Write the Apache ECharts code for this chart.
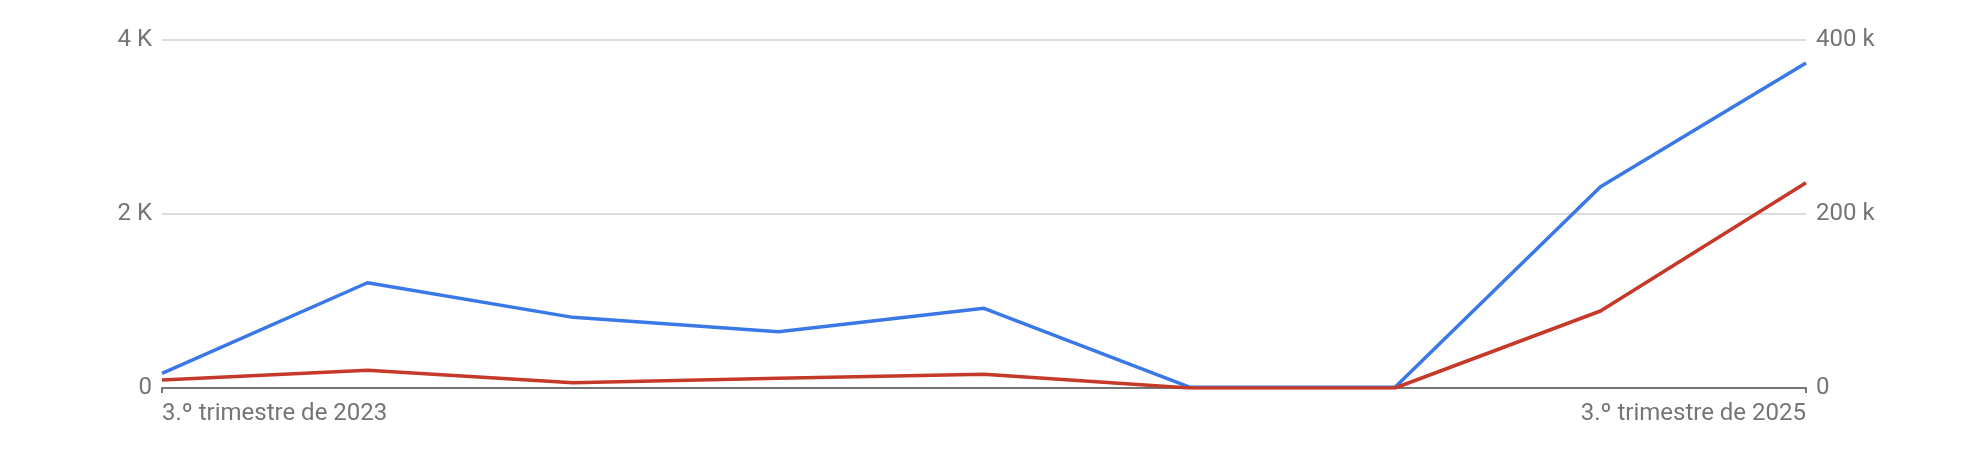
<!DOCTYPE html>
<html>
<head>
<meta charset="utf-8">
<script src="https://cdn.jsdelivr.net/npm/echarts@6/dist/echarts.min.js"></script>
<style>
html,body{margin:0;padding:0;background:#fff;}
#main{width:1964px;height:476px;}
</style>
</head>
<body>
<div id="main"></div>
<script>
/* quarters, left axis series (blue), right axis series (red) */
var quarters = [
  "3.º trimestre de 2023","4.º trimestre de 2023","1.º trimestre de 2024",
  "2.º trimestre de 2024","3.º trimestre de 2024","4.º trimestre de 2024",
  "1.º trimestre de 2025","2.º trimestre de 2025","3.º trimestre de 2025"
];
var blueVals = [169, 1210, 812, 647, 916, 10, 10, 2314, 3736];
var redVals  = [9200, 20300, 6100, 11100, 15700, 0, 0, 88500, 236000];
var leftTicks  = {0:"0", 2000:"2 K", 4000:"4 K"};
var rightTicks = {0:"0", 200000:"200 k", 400000:"400 k"};

var TXT = "#757575", GRID = "#dcdcdc", AXIS = "#757575";
var FONT = "Roboto";
var last = quarters.length - 1;

var cats = quarters.map(function(q, i){
  return { value:q, textStyle:{ align: i===0 ? "left" : (i===last ? "right" : "center") } };
});
function endsOnly(i){ return i===0 || i===last; }

var ch = echarts.init(document.getElementById("main"), null, {renderer:"canvas"});
ch.setOption({
  animation:false,
  backgroundColor:"#fff",
  grid:{ left:162, right:158, top:40, bottom:88, containLabel:false },
  xAxis:{
    type:"category", data:cats, boundaryGap:false,
    axisLine:{ lineStyle:{ color:AXIS, width:2 } },
    axisTick:{ show:true, interval:endsOnly, length:5, lineStyle:{ color:AXIS, width:2 } },
    axisLabel:{ interval:endsOnly, color:TXT, fontFamily:FONT, fontSize:24, margin:14 },
    splitLine:{ show:false }
  },
  yAxis:[{
    type:"value", min:0, max:4000, interval:2000, position:"left",
    axisLine:{show:false}, axisTick:{show:false},
    axisLabel:{ color:TXT, fontFamily:FONT, fontSize:24, margin:10, padding:[2,0,0,0],
      formatter:function(v){ return leftTicks[v]; } },
    splitLine:{ lineStyle:{ color:GRID, width:2 } }
  },{
    type:"value", min:0, max:400000, interval:200000, position:"right",
    axisLine:{show:false}, axisTick:{show:false},
    axisLabel:{ color:TXT, fontFamily:FONT, fontSize:24, margin:10, padding:[2,0,0,0],
      formatter:function(v){ return rightTicks[v]; } },
    splitLine:{ show:false }
  }],
  series:[
    { type:"line", yAxisIndex:0, data:blueVals, symbol:"none",
      lineStyle:{ color:"#3b78e7", width:3.5 }, itemStyle:{ color:"#3b78e7" } },
    { type:"line", yAxisIndex:1, data:redVals, symbol:"none",
      lineStyle:{ color:"#c53929", width:3.5 }, itemStyle:{ color:"#c53929" } }
  ]
});
</script>
</body>
</html>
